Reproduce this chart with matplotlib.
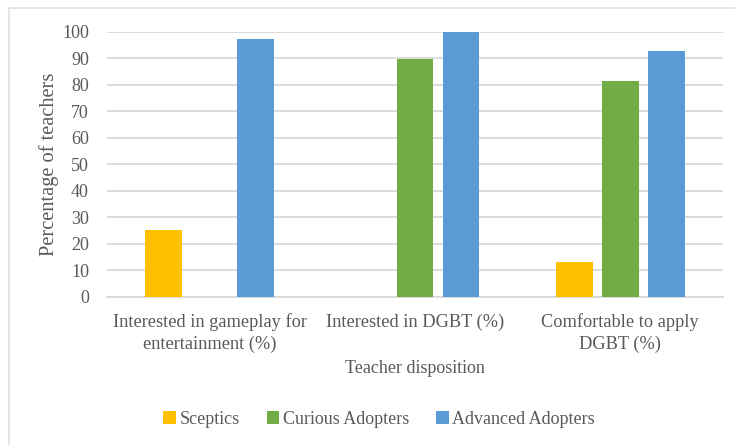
import matplotlib.pyplot as plt
import numpy as np
from matplotlib.lines import Line2D

categories = ["Interested in gameplay for\nentertainment (%)",
              "Interested in DGBT (%)",
              "Comfortable to apply\nDGBT (%)"]
groups = ["Sceptics", "Curious Adopters", "Advanced Adopters"]
sceptics = [25, 0, 13]
curious = [0, 89.7, 81.5]
advanced = [97.3, 100, 92.6]
colors = ["#FFC000", "#70AD47", "#5B9BD5"]

plt.rcParams['font.family'] = ['Liberation Serif', 'DejaVu Serif']
text_col = "#595959"

fig = plt.figure(figsize=(7.35, 4.45), dpi=100)
ax = fig.add_axes([107 / 735, 1 - 296.7 / 445, 616 / 735, 265 / 445])

x = np.arange(len(categories))
offset = 0.224
width = 0.18
for i, (vals, name) in enumerate(zip([sceptics, curious, advanced], groups)):
    ax.bar(x + (i - 1) * offset, vals, width, color=colors[i], label=name, zorder=3)

ax.set_xlim(-0.5, 2.5)
ax.set_ylim(0, 100)
ax.set_yticks(range(0, 101, 10))
ax.yaxis.grid(True, color="#D9D9D9", linewidth=1.3, zorder=0)
for s in ["top", "right", "left"]:
    ax.spines[s].set_visible(False)
ax.spines["bottom"].set_color("#D9D9D9")
ax.spines["bottom"].set_linewidth(1.3)
ax.tick_params(axis="both", length=0, colors=text_col)
ax.tick_params(axis="y", pad=13, labelsize=13)
ax.tick_params(axis="x", pad=12, labelsize=13.2)
ax.set_xticks(x)
ax.set_xticklabels(categories, linespacing=1.35)

ax.set_ylabel("Percentage of teachers", fontsize=14.7, color=text_col, labelpad=2)
ax.set_xlabel("Teacher disposition", fontsize=13, color=text_col, labelpad=5)

leg = fig.legend(loc="center", bbox_to_anchor=(379 / 735, 1 - 419 / 445), ncol=3,
                 frameon=False, fontsize=13, handlelength=0.7, handleheight=0.7,
                 handletextpad=0.2, columnspacing=1.5)
for t in leg.get_texts():
    t.set_color(text_col)

# chart frame
fig.add_artist(Line2D([8.5 / 735, 8.5 / 735], [0, 1 - 8 / 445], transform=fig.transFigure,
                      color="#E0E0E0", linewidth=1.2))
fig.add_artist(Line2D([8.5 / 735, 1], [1 - 8 / 445, 1 - 8 / 445], transform=fig.transFigure,
                      color="#E0E0E0", linewidth=1.2))

fig.savefig("out.png", dpi=100)
